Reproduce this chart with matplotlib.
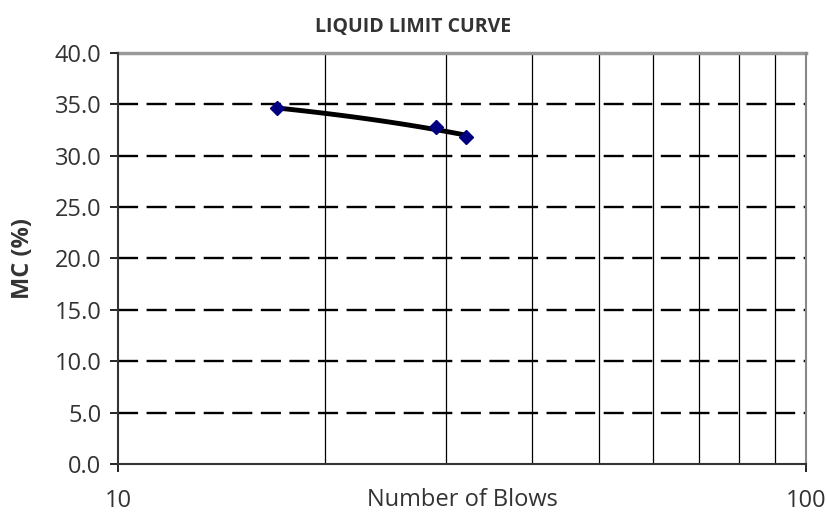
import matplotlib
matplotlib.use("Agg")
import matplotlib.pyplot as plt
import numpy as np

plt.rcParams['font.family'] = ['Open Sans', 'DejaVu Sans']

blows = [17, 29, 32]
mc = [34.6, 32.8, 31.8]
y_ticks = [0, 5, 10, 15, 20, 25, 30, 35, 40]

fig = plt.figure(figsize=(8.26, 5.14), dpi=100)
ax = fig.add_axes([0.1429, 0.0973, 0.8329, 0.7996])
ax.set_xscale('log')
ax.set_xlim(10, 100)
ax.set_ylim(0, 40)

# vertical minor gridlines
for v in range(20, 100, 10):
    ax.axvline(v, color='black', lw=0.9, zorder=1)
# horizontal dashed lines
for t in y_ticks[1:-1]:
    ax.axhline(t, color='black', lw=1.7, ls=(0, (8.5, 3.6)), zorder=1)
ax.axhline(40, color='#999999', lw=2.5, zorder=1, clip_on=False)

# linear trend line
c = np.polyfit(blows, mc, 1)
xs = np.linspace(min(blows), max(blows), 100)
ax.plot(xs, np.polyval(c, xs), color='black', lw=3.5, zorder=3)
ax.plot(blows, mc, ls='none', marker='D', ms=7, color='#000080', zorder=4)

ax.set_yticks(y_ticks)
ax.set_yticklabels([f"{t:.1f}" for t in y_ticks])
ax.set_xticks([10, 100])
ax.set_xticklabels(['10', '100'])
ax.xaxis.set_minor_locator(matplotlib.ticker.NullLocator())
ax.tick_params(axis='both', labelsize=17, length=6, width=1.2, direction='out', pad=6)
ax.tick_params(axis='y', colors='black', labelcolor='#333333')
ax.tick_params(axis='x', colors='black', labelcolor='#333333', pad=12)

ax.spines['left'].set_color('#333333')
ax.spines['left'].set_linewidth(1.5)
ax.spines['bottom'].set_color('#333333')
ax.spines['bottom'].set_linewidth(1.5)
ax.spines['right'].set_color('#888888')
ax.spines['right'].set_linewidth(1.5)
ax.spines['top'].set_visible(False)

ax.set_xlabel('Number of Blows', fontsize=17, color='#333333', labelpad=-18)
ax.set_ylabel('MC (%)', fontsize=17, fontweight='bold', color='#333333', labelpad=14)
fig.text(0.5, 0.948, 'LIQUID LIMIT CURVE', ha='center', va='center', fontsize=14, fontweight='bold', color='#333333')

fig.savefig('out.png', dpi=100)
